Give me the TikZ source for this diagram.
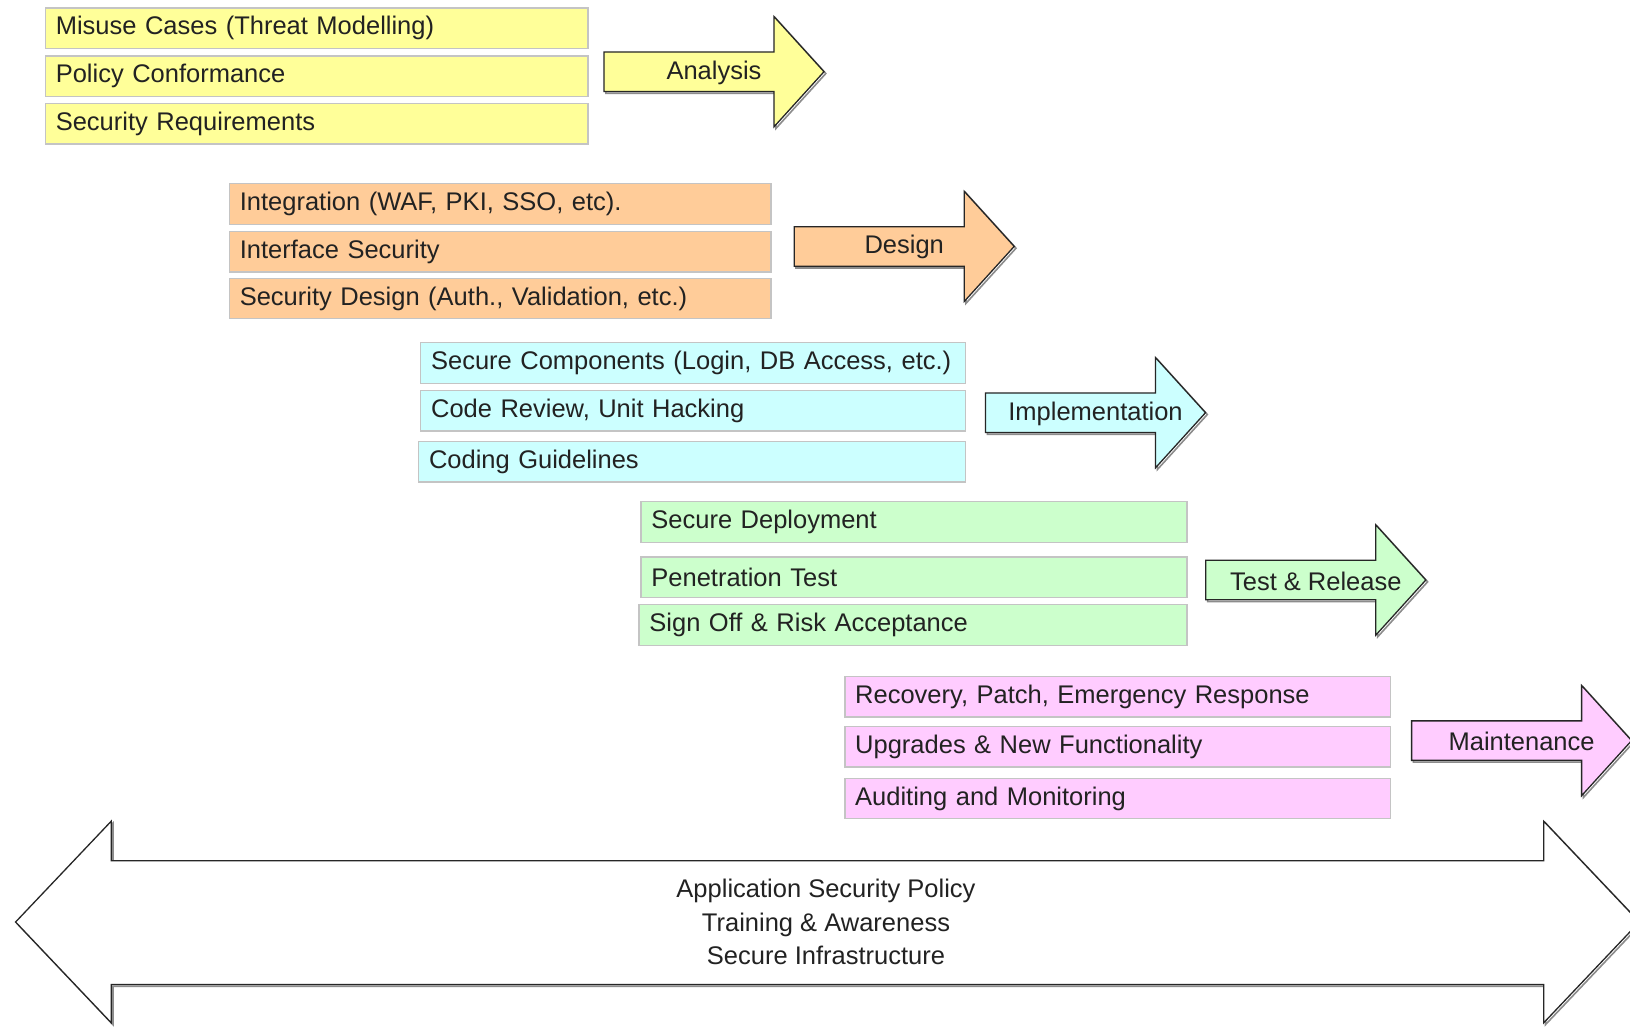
\documentclass[tikz,border=0pt]{standalone}
\usepackage{fontspec}
\setmainfont{Liberation Sans}
\definecolor{cyel}{HTML}{FFFF99}
\definecolor{corg}{HTML}{FFCC99}
\definecolor{ccya}{HTML}{CCFFFF}
\definecolor{cgrn}{HTML}{CCFFCC}
\definecolor{cpnk}{HTML}{FFCCFF}
\definecolor{boxline}{HTML}{C4C4C4}
\definecolor{txt}{HTML}{222222}
\tikzset{
  pbox/.style={draw=boxline, line width=1.4pt, anchor=north west, inner xsep=10.4pt, inner ysep=0pt,
    minimum height=40.5pt, align=left, text=txt, font=\fontsize{25.5}{31}\selectfont},
  parrow/.style={draw=black!85, line width=1.3pt, line join=miter},
  pshadow/.style={draw=black!45, line width=1.6pt, shift={(1.8,1.8)}},
  plabel/.style={text=txt, inner sep=0pt, font=\fontsize{25.5}{31}\selectfont}
}
% name, x, y, text width, fill, text
\newcommand\phasebox[6]{%
  \node[pbox, fill=#5, text width=#4] (#1) at (#2,#3) {\mbox{#6}};
}
\newcommand\phasearrow[5]{%
  \draw[pshadow] (#1,#2-19.75) -- ++(170,0) -- ++(0,-35.35) -- ++(50,55.1) -- ++(-50,55.1) -- ++(0,-35.35) -- ++(-170,0) -- cycle;
  \draw[parrow,fill=#3] (#1,#2-19.75) -- ++(170,0) -- ++(0,-35.35) -- ++(50,55.1) -- ++(-50,55.1) -- ++(0,-35.35) -- ++(-170,0) -- cycle;
  \node[plabel] (#4) at (#1+110,#2+1) {#5};
}
\begin{document}
\begin{tikzpicture}[x=1pt,y=-1pt]
\clip (0,0) rectangle (1630,1026);
\fill[white] (0,0) rectangle (1630,1026);

% Analysis
\phasebox{a1}{44.7}{7.3}{521.8pt}{cyel}{Misuse Cases (Threat Modelling)}
\phasebox{a2}{44.7}{55.1}{521.8pt}{cyel}{Policy Conformance}
\phasebox{a3}{44.7}{102.9}{521.8pt}{cyel}{Security Requirements}
\phasearrow{604}{71.7}{cyel}{analysis}{Analysis}

% Design
\phasebox{d1}{228.7}{183}{520.8pt}{corg}{Integration (WAF, PKI, SSO, etc).}
\phasebox{d2}{228.7}{230.8}{520.8pt}{corg}{Interface Security}
\phasebox{d3}{228.7}{277.5}{520.8pt}{corg}{Security Design (Auth., Validation, etc.)}
\phasearrow{794.2}{246.4}{corg}{design}{Design}

% Implementation
\phasebox{i1}{420}{342}{523.9pt}{ccya}{Secure Components (Login, DB Access, etc.)}
\phasebox{i2}{420}{389.8}{523.9pt}{ccya}{Code Review, Unit Hacking}
\phasebox{i3}{417.9}{440.7}{526pt}{ccya}{Coding Guidelines}
\phasearrow{985.5}{412.7}{ccya}{implementation}{Implementation}

% Test & Release
\phasebox{t1}{640.3}{501}{525pt}{cgrn}{Secure Deployment}
\phasebox{t2}{640.3}{556.1}{525pt}{cgrn}{Penetration Test}
\phasebox{t3}{638.3}{604}{527pt}{cgrn}{Sign Off \& Risk Acceptance}
\phasearrow{1205.8}{580}{cgrn}{testrelease}{Test \& Release}

% Maintenance
\phasebox{m1}{844.1}{675.7}{524.9pt}{cpnk}{Recovery, Patch, Emergency Response}
\phasebox{m2}{844.1}{725.6}{524.9pt}{cpnk}{Upgrades \& New Functionality}
\phasebox{m3}{844.1}{777.5}{524.9pt}{cpnk}{Auditing and Monitoring}
\phasearrow{1411.6}{740.6}{cpnk}{maintenance}{Maintenance}

% Base double arrow
\draw[pshadow] (15.6,922) -- (111.2,821.2) -- (111.2,860.7) -- (1543.7,860.7) -- (1543.7,821.2) -- (1639.3,922) -- (1543.7,1022.8) -- (1543.7,984.4) -- (111.2,984.4) -- (111.2,1022.8) -- cycle;
\draw[parrow, fill=white] (15.6,922) -- (111.2,821.2) -- (111.2,860.7) -- (1543.7,860.7) -- (1543.7,821.2) -- (1639.3,922) -- (1543.7,1022.8) -- (1543.7,984.4) -- (111.2,984.4) -- (111.2,1022.8) -- cycle;
\node[plabel, align=center, font=\fontsize{25.5}{33.3}\selectfont] (base) at (826,922) {Application Security Policy\\Training \& Awareness\\Secure Infrastructure};
\end{tikzpicture}
\end{document}
